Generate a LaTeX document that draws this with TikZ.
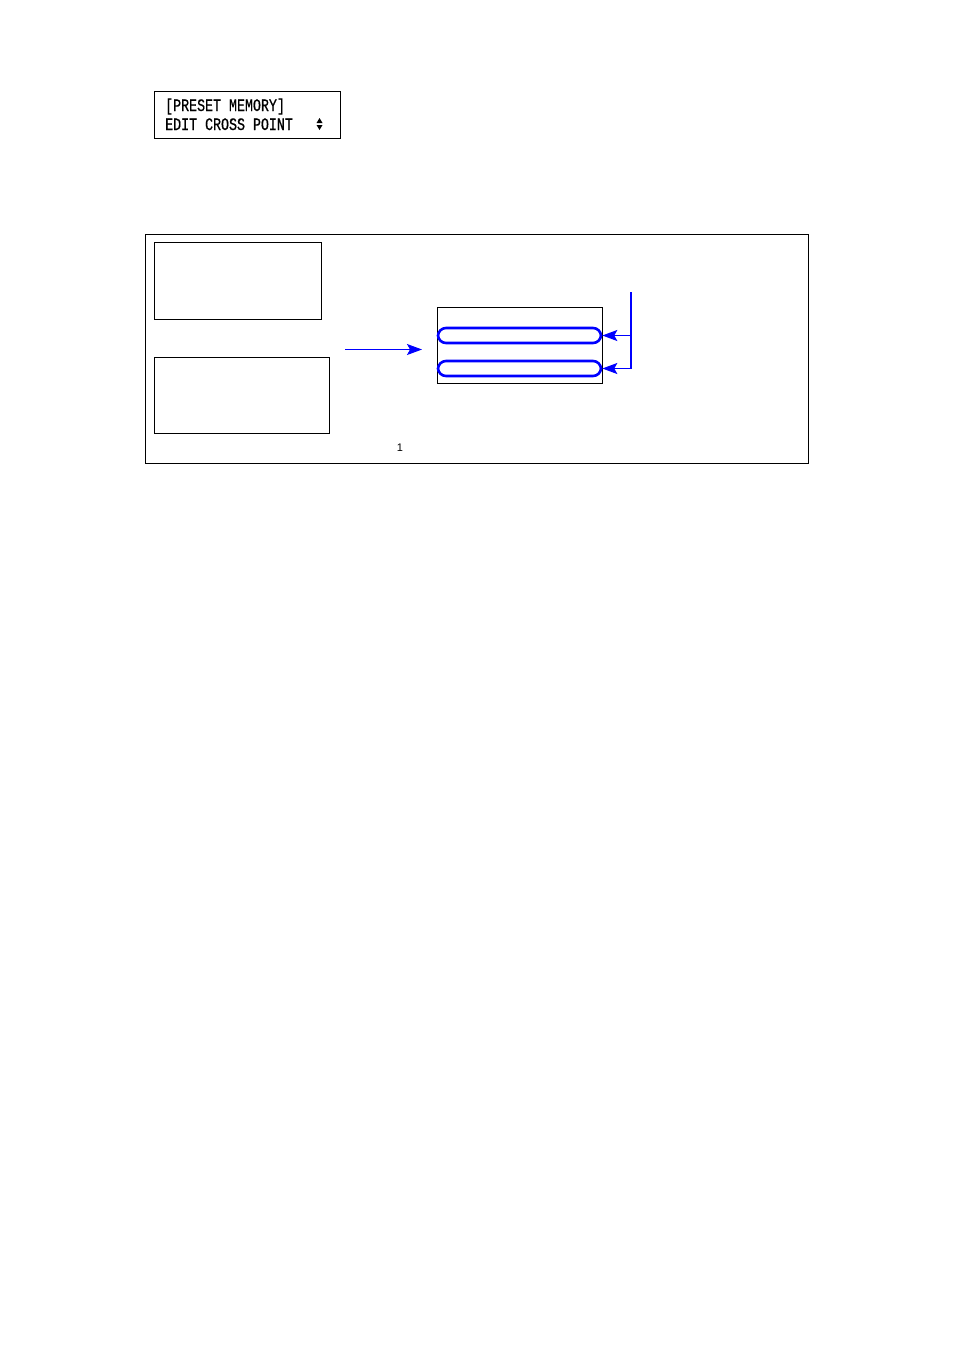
\documentclass[tikz,border=0pt]{standalone}
\usepackage{fontspec}
\setmainfont{Liberation Sans}
\newfontfamily\lcdfont[FakeStretch=0.76, FakeBold=0.6]{Liberation Mono}
\usetikzlibrary{arrows.meta, positioning}
\tikzset{
    frame/.style={draw, line width=0.9pt, inner sep=0pt, anchor=north west},
    slot/.style={draw=blue, line width=2.6pt, rounded corners=8pt, inner sep=0pt,
        minimum width=163pt, minimum height=15pt},
    feed/.style={-{Stealth[length=15pt, width=11pt, inset=3pt]}, blue, line width=1.7pt},
    lcd/.style={inner sep=0pt, anchor=base west, font=\lcdfont\fontsize{17.5}{20}\selectfont}
}
\begin{document}
\begin{tikzpicture}[x=1pt, y=-1pt]
    \useasboundingbox (0,0) rectangle (954,1350);
    % display window
    \node[frame, minimum width=186pt, minimum height=47pt] (lcdbox) at (154,91) {};
    \node[lcd] (lcdtop) at (165,111) {[PRESET MEMORY]};
    \node[lcd] (lcdbot) at (165,130) {EDIT CROSS POINT};
    \fill (316.5,123) -- (322.5,123) -- (319.5,118) -- cycle;
    \fill (316.5,125) -- (322.5,125) -- (319.5,130) -- cycle;
    % panel
    \node[frame, minimum width=663pt, minimum height=229pt] (panel) at (145,234) {};
    \node[frame, minimum width=167pt, minimum height=77pt] (srcA) at (154,242) {};
    \node[frame, minimum width=175pt, minimum height=76pt] (srcB) at (154,357) {};
    \node[frame, minimum width=165pt, minimum height=76pt] (xpt) at (437,307) {};
    \node[slot] (rowA) at (519.5,335.5) {};
    \node[slot] (rowB) at (519.5,368.5) {};
    \node[font=\fontsize{11}{13}\selectfont] (page) at (400,448) {1};
    % connectors
    \coordinate (go) at (345,349.5);
    \coordinate (stop) at (422,349.5);
    \coordinate (feedtop) at (631,292);
    \draw[feed, line width=1pt] (go) -- (stop);
    \draw[feed] (feedtop) |- (rowB.east);
    \draw[feed] (rowA.east -| feedtop) -- (rowA.east);
\end{tikzpicture}
\end{document}
